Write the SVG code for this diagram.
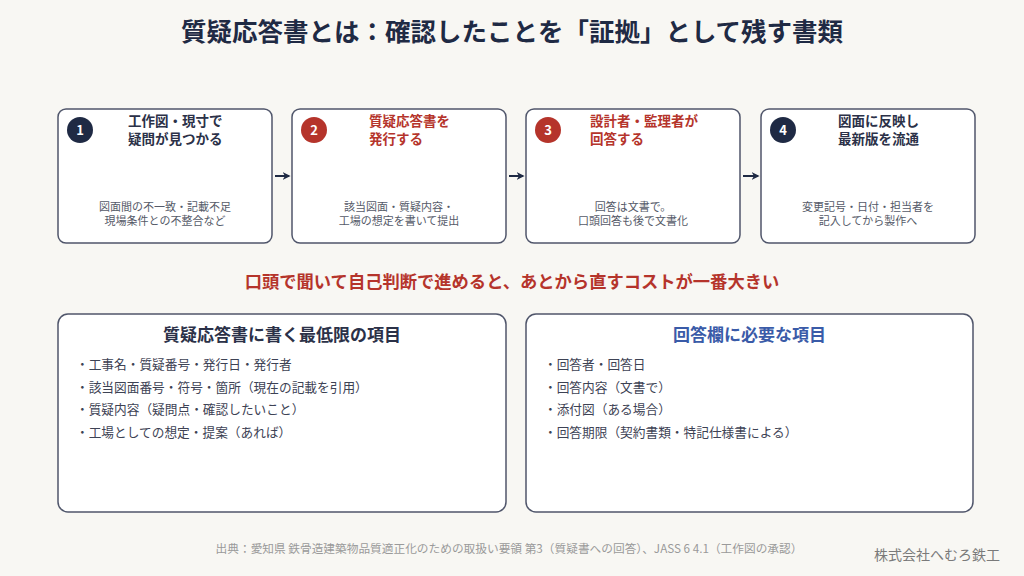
<svg xmlns="http://www.w3.org/2000/svg" width="1024" height="576" viewBox="0 0 1024 576">
<style>
text{font-family:"Noto Sans CJK JP","Noto Sans",sans-serif}
.box{fill:#ffffff;stroke:#50566b;stroke-width:1.5}
.title{font-size:25.5px;font-weight:700;fill:#1f2a44}
.st{font-size:13.5px;font-weight:700}
.navy{fill:#2b3148}
.red{fill:#b5342b}
.desc{font-size:11px;fill:#555a68;text-anchor:middle}
.num{font-size:13px;font-weight:700;fill:#ffffff;text-anchor:middle}
.head{font-size:17px;font-weight:700;text-anchor:middle}
.item{font-size:12.7px;fill:#3d4254}
.conn{stroke:#1f2a44;stroke-width:2;fill:none}
</style>
<defs>
<marker id="ah" viewBox="0 0 10 10" refX="8" refY="5" markerWidth="4" markerHeight="4" orient="auto">
<path d="M0,0 L10,5 L0,10 L3,5 Z" fill="#1f2a44"/>
</marker>
</defs>
<rect width="1024" height="576" fill="#f8f7f3"/>
<text class="title" x="512" y="41" text-anchor="middle">質疑応答書とは：確認したことを「証拠」として残す書類</text>

<g id="step1">
<rect class="box" x="58" y="109" width="214" height="134" rx="8"/>
<circle cx="80" cy="130" r="13" fill="#1f2a44"/>
<text class="num" x="80" y="135">1</text>
<text class="st navy" x="128" y="126">工作図・現寸で</text>
<text class="st navy" x="128" y="144">疑問が見つかる</text>
<text class="desc" x="165" y="211">図面間の不一致・記載不足</text>
<text class="desc" x="165" y="225">現場条件との不整合など</text>
</g>
<g id="step2">
<rect class="box" x="292" y="109" width="214" height="134" rx="8"/>
<circle cx="314" cy="130" r="13" fill="#b5342b"/>
<text class="num" x="314" y="135">2</text>
<text class="st red" x="369" y="126">質疑応答書を</text>
<text class="st red" x="369" y="144">発行する</text>
<text class="desc" x="399" y="211">該当図面・質疑内容・</text>
<text class="desc" x="399" y="225">工場の想定を書いて提出</text>
</g>
<g id="step3">
<rect class="box" x="526" y="109" width="214" height="134" rx="8"/>
<circle cx="548" cy="130" r="13" fill="#b5342b"/>
<text class="num" x="548" y="135">3</text>
<text class="st red" x="590" y="126">設計者・監理者が</text>
<text class="st red" x="590" y="144">回答する</text>
<text class="desc" x="633" y="211">回答は文書で。</text>
<text class="desc" x="633" y="225">口頭回答も後で文書化</text>
</g>
<g id="step4">
<rect class="box" x="761" y="109" width="214" height="134" rx="8"/>
<circle cx="783" cy="130" r="13" fill="#1f2a44"/>
<text class="num" x="783" y="135">4</text>
<text class="st navy" x="838" y="126">図面に反映し</text>
<text class="st navy" x="838" y="144">最新版を流通</text>
<text class="desc" x="868" y="211">変更記号・日付・担当者を</text>
<text class="desc" x="868" y="225">記入してから製作へ</text>
</g>

<g id="connectors">
<line class="conn" x1="275" y1="176" x2="289" y2="176" marker-end="url(#ah)"/>
<line class="conn" x1="509" y1="176" x2="523" y2="176" marker-end="url(#ah)"/>
<line class="conn" x1="743" y1="176" x2="758" y2="176" marker-end="url(#ah)"/>
</g>

<text x="512" y="288" text-anchor="middle" font-size="17.3" font-weight="700" fill="#b5342b">口頭で聞いて自己判断で進めると、あとから直すコストが一番大きい</text>

<g id="panel-left">
<rect class="box" x="58" y="314" width="448" height="198" rx="10"/>
<text class="head navy" x="282" y="341">質疑応答書に書く最低限の項目</text>
<text class="item" x="76" y="369">・工事名・質疑番号・発行日・発行者</text>
<text class="item" x="76" y="391.5">・該当図面番号・符号・箇所（現在の記載を引用）</text>
<text class="item" x="76" y="414">・質疑内容（疑問点・確認したいこと）</text>
<text class="item" x="76" y="436.5">・工場としての想定・提案（あれば）</text>
</g>
<g id="panel-right">
<rect class="box" x="526" y="314" width="447" height="198" rx="10"/>
<text class="head" fill="#3a5ba8" x="749.5" y="341">回答欄に必要な項目</text>
<text class="item" x="544" y="369">・回答者・回答日</text>
<text class="item" x="544" y="391.5">・回答内容（文書で）</text>
<text class="item" x="544" y="414">・添付図（ある場合）</text>
<text class="item" x="544" y="436.5">・回答期限（契約書類・特記仕様書による）</text>
</g>

<text x="509" y="553" text-anchor="middle" font-size="11.7" fill="#9a9a9a">出典：愛知県 鉄骨造建築物品質適正化のための取扱い要領 第3（質疑書への回答）、JASS 6 4.1（工作図の承認）</text>
<text x="1000" y="560" text-anchor="end" font-size="14" fill="#7a7a7a">株式会社へむろ鉄工</text>
</svg>
